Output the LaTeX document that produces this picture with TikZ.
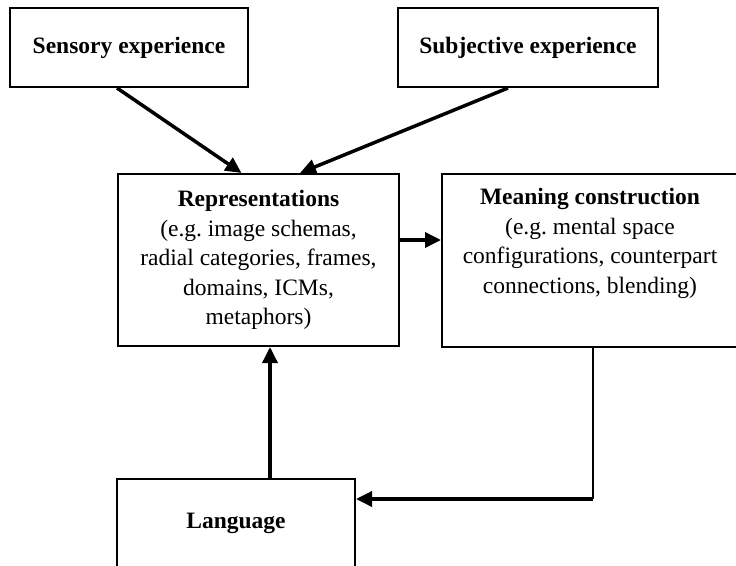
\documentclass[tikz,border=0pt]{standalone}
\usepackage{fontspec}
\setmainfont{Liberation Serif}
\usetikzlibrary{arrows.meta}
\tikzset{
  box/.style={draw=black, line width=2pt, fill=white, inner sep=0pt, align=center,
    font=\fontsize{23.5}{29.5}\selectfont\frenchspacing},
  txt/.style={inner sep=0pt, align=center, font=\fontsize{23.5}{29.5}\selectfont\frenchspacing},
  conn/.style={line width=3.5pt, -{Triangle[length=16pt,width=15pt]}},
  thin/.style={line width=2pt}
}
\begin{document}
\begin{tikzpicture}[x=1pt,y=1pt]
\clip (0,0) rectangle (736,-565);
\fill[white] (0,0) rectangle (736,-565);
\node[box, minimum width=238pt, minimum height=79pt] (sens) at (129,-47.5) {\textbf{Sensory experience}};
\node[box, minimum width=260pt, minimum height=79pt] (subj) at (528,-47.5) {\textbf{Subjective experience}};
\node[box, minimum width=281pt, minimum height=172pt] (rep) at (258.5,-260)
  {\textbf{Representations}\\(e.g. image schemas,\\radial categories, frames,\\domains, ICMs,\\metaphors)};
\node[box, minimum width=296pt, minimum height=173pt] (mean) at (590,-260.5) {};
\node[txt, anchor=north] (meantxt) at ([yshift=-15pt]mean.north)
  {\textbf{Meaning construction}\\(e.g. mental space\\configurations, counterpart\\connections, blending)};
\node[box, minimum width=238pt, minimum height=88pt] (lang) at (236,-523) {\textbf{Language}};
\coordinate (corner) at (593,-499);
\draw[conn] ([xshift=-12pt]sens.south) -- ([xshift=-17pt]rep.north);
\draw[conn] ([xshift=-20pt]subj.south) -- ([xshift=41.5pt]rep.north);
\draw[conn] ([yshift=20pt]rep.east) -- ([yshift=20.5pt]mean.west);
\draw[conn] ([xshift=34pt]lang.north) -- ([xshift=11.5pt]rep.south);
\draw[thin] (mean.south -| corner) -- (corner);
\draw[conn] (corner) -- (lang.east |- corner);
\end{tikzpicture}
\end{document}
